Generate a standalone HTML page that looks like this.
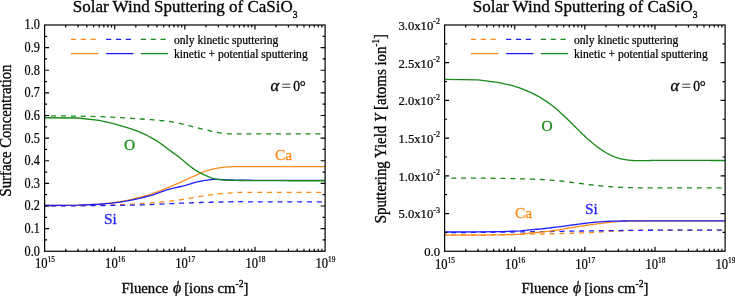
<!DOCTYPE html>
<html><head><meta charset="utf-8"><style>
html,body{margin:0;padding:0;background:#fff;width:735px;height:296px;overflow:hidden}
svg{display:block;will-change:transform}
</style></head><body>
<svg width="735" height="296" viewBox="0 0 735 296">
<rect width="735" height="296" fill="#fff"/>
<g fill="none" stroke-width="1.3" stroke-linecap="butt">
<path d="M44.60,205.91 L78.06,205.67 L99.17,205.34 L111.52,205.00 L120.28,204.65 L127.07,204.33 L132.63,204.06 L137.32,203.81 L141.39,203.57 L144.97,203.35 L148.18,203.13 L151.09,202.92 L153.74,202.72 L156.17,202.52 L158.43,202.33 L160.53,202.15 L162.50,201.97 L164.34,201.79 L166.08,201.60 L167.73,201.42 L169.29,201.24 L170.78,201.06 L172.20,200.89 L173.55,200.71 L174.84,200.54 L176.09,200.38 L177.28,200.22 L178.43,200.06 L179.54,199.90 L180.61,199.75 L181.64,199.59 L182.64,199.45 L183.61,199.30 L184.54,199.16 L185.45,199.02 L186.34,198.89 L187.19,198.75 L188.03,198.62 L188.84,198.49 L189.63,198.37 L190.40,198.24 L191.16,198.11 L191.89,197.98 L192.60,197.84 L193.31,197.70 L194.66,197.42 L195.96,197.15 L197.20,196.90 L198.39,196.67 L199.54,196.46 L200.65,196.28 L201.72,196.12 L202.75,195.96 L203.75,195.82 L204.72,195.69 L205.65,195.56 L206.56,195.44 L207.45,195.32 L208.30,195.21 L209.14,195.10 L209.95,194.99 L210.74,194.88 L211.51,194.77 L212.26,194.67 L213.00,194.56 L213.72,194.46 L214.41,194.36 L215.44,194.22 L216.42,194.09 L217.38,193.97 L218.31,193.86 L219.21,193.77 L220.08,193.68 L220.93,193.61 L221.76,193.54 L222.56,193.48 L223.35,193.42 L224.11,193.37 L224.86,193.32 L225.59,193.27 L226.30,193.22 L227.22,193.16 L228.12,193.11 L228.99,193.05 L229.83,193.00 L230.66,192.95 L231.46,192.89 L232.24,192.84 L233.00,192.78 L233.74,192.73 L234.47,192.68 L235.18,192.63 L236.04,192.58 L236.88,192.53 L237.69,192.49 L238.49,192.46 L239.26,192.44 L240.02,192.42 L240.76,192.42 L241.48,192.41 L242.18,192.40 L243.00,192.39 L243.81,192.38 L244.59,192.37 L245.35,192.36 L246.09,192.36 L246.82,192.35 L247.53,192.34 L248.33,192.34 L249.12,192.33 L249.88,192.32 L250.63,192.32 L251.36,192.32 L252.07,192.31 L252.86,192.31 L253.64,192.30 L254.39,192.30 L255.13,192.30 L255.85,192.30 L256.55,192.29 L257.32,192.29 L258.07,192.29 L258.81,192.29 L259.52,192.29 L260.22,192.29 L260.98,192.29 L261.72,192.29 L262.44,192.29 L263.15,192.29 L263.91,192.29 L264.65,192.29 L265.37,192.29 L266.08,192.29 L266.83,192.29 L267.57,192.29 L268.28,192.29 L268.98,192.29 L269.72,192.29 L270.45,192.29 L271.15,192.29 L271.90,192.29 L272.62,192.29 L273.33,192.29 L274.07,192.29 L274.79,192.29 L275.50,192.29 L276.24,192.29 L276.95,192.29 L277.66,192.29 L278.39,192.29 L279.10,192.29 L279.83,192.29 L280.55,192.29 L281.25,192.29 L281.98,192.29 L282.69,192.29 L283.41,192.29 L284.12,192.29 L284.85,192.29 L285.56,192.29 L286.29,192.29 L287.00,192.29 L287.72,192.29 L288.43,192.29 L289.15,192.29 L289.86,192.29 L290.58,192.29 L291.28,192.29 L291.99,192.29 L292.72,192.29 L293.42,192.29 L294.14,192.29 L294.86,192.29 L295.57,192.29 L296.28,192.29 L297.00,192.29 L297.71,192.29 L298.42,192.29 L299.13,192.29 L299.85,192.29 L300.56,192.29 L301.26,192.29 L301.98,192.29 L302.69,192.29 L303.41,192.29 L304.12,192.29 L304.82,192.29 L305.53,192.29 L306.23,192.29 L306.94,192.29 L307.64,192.29 L308.35,192.29 L309.05,192.29 L309.75,192.29 L310.46,192.29 L311.16,192.29 L311.87,192.29 L312.58,192.29 L313.29,192.29 L314.00,192.29 L314.70,192.29 L315.41,192.29 L316.12,192.29 L316.82,192.29 L317.53,192.29 L318.24,192.29 L318.94,192.29 L319.65,192.29 L320.35,192.29 L321.06,192.29 L321.76,192.29 L322.46,192.29 L323.17,192.29 L323.88,192.29 L324.58,192.29 L325.00,192.29" stroke="#FF8C1A" stroke-dasharray="5,4.84" stroke-dashoffset="3.2"/>
<path d="M44.60,205.91 L78.06,205.78 L99.17,205.59 L111.52,205.45 L120.28,205.34 L127.07,205.25 L132.63,205.16 L137.32,205.06 L141.39,204.93 L144.97,204.81 L148.18,204.68 L151.09,204.56 L153.74,204.44 L156.17,204.33 L158.43,204.22 L160.53,204.12 L162.50,204.03 L164.34,203.94 L166.08,203.85 L167.73,203.77 L169.29,203.70 L170.78,203.63 L172.20,203.56 L173.55,203.49 L174.84,203.43 L176.09,203.38 L177.28,203.32 L178.43,203.27 L179.54,203.23 L180.61,203.18 L181.64,203.14 L182.64,203.10 L183.61,203.06 L184.54,203.02 L185.45,202.99 L186.34,202.96 L187.19,202.93 L188.03,202.90 L188.84,202.87 L189.63,202.84 L190.40,202.82 L191.16,202.80 L191.89,202.77 L192.60,202.75 L193.31,202.73 L194.66,202.69 L195.96,202.65 L197.20,202.62 L198.39,202.58 L199.54,202.55 L200.65,202.52 L201.72,202.49 L202.75,202.47 L203.75,202.44 L204.72,202.42 L205.65,202.39 L206.56,202.37 L207.45,202.35 L208.30,202.33 L209.14,202.31 L209.95,202.29 L210.74,202.27 L211.51,202.25 L212.26,202.24 L213.00,202.22 L213.72,202.20 L214.41,202.18 L215.44,202.15 L216.42,202.13 L217.38,202.10 L218.31,202.08 L219.21,202.06 L220.08,202.03 L220.93,202.01 L221.76,201.99 L222.56,201.97 L223.35,201.95 L224.11,201.93 L224.86,201.91 L225.59,201.90 L226.30,201.88 L227.22,201.86 L228.12,201.84 L228.99,201.82 L229.83,201.81 L230.66,201.79 L231.46,201.78 L232.24,201.76 L233.00,201.75 L233.74,201.74 L234.47,201.73 L235.18,201.73 L236.04,201.72 L236.88,201.71 L237.69,201.71 L238.49,201.70 L239.26,201.70 L240.02,201.70 L240.76,201.70 L241.48,201.70 L242.18,201.71 L243.00,201.72 L243.81,201.72 L244.59,201.73 L245.35,201.74 L246.09,201.75 L246.82,201.76 L247.53,201.77 L248.33,201.79 L249.12,201.80 L249.88,201.81 L250.63,201.83 L251.36,201.84 L252.07,201.85 L252.86,201.86 L253.64,201.87 L254.39,201.88 L255.13,201.89 L255.85,201.90 L256.55,201.91 L257.32,201.92 L258.07,201.92 L258.81,201.93 L259.52,201.93 L260.22,201.93 L260.98,201.93 L261.72,201.93 L262.44,201.93 L263.15,201.93 L263.91,201.93 L264.65,201.93 L265.37,201.93 L266.08,201.93 L266.83,201.93 L267.57,201.93 L268.28,201.93 L268.98,201.93 L269.72,201.93 L270.45,201.93 L271.15,201.93 L271.90,201.93 L272.62,201.93 L273.33,201.93 L274.07,201.93 L274.79,201.93 L275.50,201.93 L276.24,201.93 L276.95,201.93 L277.66,201.93 L278.39,201.93 L279.10,201.93 L279.83,201.93 L280.55,201.93 L281.25,201.93 L281.98,201.93 L282.69,201.93 L283.41,201.93 L284.12,201.93 L284.85,201.93 L285.56,201.93 L286.29,201.93 L287.00,201.93 L287.72,201.93 L288.43,201.93 L289.15,201.93 L289.86,201.93 L290.58,201.93 L291.28,201.93 L291.99,201.93 L292.72,201.93 L293.42,201.93 L294.14,201.93 L294.86,201.93 L295.57,201.93 L296.28,201.93 L297.00,201.93 L297.71,201.93 L298.42,201.93 L299.13,201.93 L299.85,201.93 L300.56,201.93 L301.26,201.93 L301.98,201.93 L302.69,201.93 L303.41,201.93 L304.12,201.93 L304.82,201.93 L305.53,201.93 L306.23,201.93 L306.94,201.93 L307.64,201.93 L308.35,201.93 L309.05,201.93 L309.75,201.93 L310.46,201.93 L311.16,201.93 L311.87,201.93 L312.58,201.93 L313.29,201.93 L314.00,201.93 L314.70,201.93 L315.41,201.93 L316.12,201.93 L316.82,201.93 L317.53,201.93 L318.24,201.93 L318.94,201.93 L319.65,201.93 L320.35,201.93 L321.06,201.93 L321.76,201.93 L322.46,201.93 L323.17,201.93 L323.88,201.93 L324.58,201.93 L325.00,201.93" stroke="#1E1EFA" stroke-dasharray="5,4.84" stroke-dashoffset="3.2"/>
<path d="M44.60,205.50 L78.06,205.13 L99.17,204.03 L111.52,202.90 L120.28,201.75 L127.07,200.35 L132.63,199.05 L137.32,197.93 L141.39,196.90 L144.97,195.94 L148.18,195.01 L151.09,194.12 L153.74,193.22 L156.17,192.34 L158.43,191.48 L160.53,190.65 L162.50,189.86 L164.34,189.11 L166.08,188.39 L167.73,187.70 L169.29,187.06 L170.78,186.45 L172.20,185.85 L173.55,185.28 L174.84,184.72 L176.09,184.18 L177.28,183.65 L178.43,183.14 L179.54,182.65 L180.61,182.17 L181.64,181.71 L182.64,181.26 L183.61,180.83 L184.54,180.41 L185.45,180.00 L186.34,179.61 L187.19,179.22 L188.03,178.84 L188.84,178.47 L189.63,178.11 L190.40,177.76 L191.16,177.42 L191.89,177.09 L192.60,176.76 L193.31,176.44 L194.66,175.83 L195.96,175.25 L197.20,174.68 L198.39,174.13 L199.54,173.60 L200.65,173.11 L201.72,172.64 L202.75,172.21 L203.75,171.83 L204.72,171.48 L205.65,171.17 L206.56,170.88 L207.45,170.60 L208.30,170.34 L209.14,170.10 L209.95,169.87 L210.74,169.65 L211.51,169.45 L212.26,169.27 L213.00,169.09 L213.72,168.93 L214.41,168.79 L215.44,168.58 L216.42,168.40 L217.38,168.22 L218.31,168.05 L219.21,167.89 L220.08,167.75 L220.93,167.62 L221.76,167.50 L222.56,167.40 L223.35,167.31 L224.11,167.23 L224.86,167.16 L225.59,167.11 L226.30,167.05 L227.22,166.98 L228.12,166.92 L228.99,166.86 L229.83,166.81 L230.66,166.76 L231.46,166.72 L232.24,166.69 L233.00,166.66 L233.74,166.64 L234.47,166.63 L235.18,166.63 L236.04,166.63 L236.88,166.63 L237.69,166.63 L238.49,166.63 L239.26,166.63 L240.02,166.63 L240.76,166.63 L241.48,166.63 L242.18,166.63 L243.00,166.63 L243.81,166.63 L244.59,166.63 L245.35,166.63 L246.09,166.63 L246.82,166.63 L247.53,166.63 L248.33,166.63 L249.12,166.63 L249.88,166.63 L250.63,166.63 L251.36,166.63 L252.07,166.63 L252.86,166.63 L253.64,166.63 L254.39,166.63 L255.13,166.63 L255.85,166.63 L256.55,166.63 L257.32,166.63 L258.07,166.63 L258.81,166.63 L259.52,166.63 L260.22,166.63 L260.98,166.63 L261.72,166.63 L262.44,166.63 L263.15,166.63 L263.91,166.63 L264.65,166.63 L265.37,166.63 L266.08,166.63 L266.83,166.63 L267.57,166.63 L268.28,166.63 L268.98,166.63 L269.72,166.63 L270.45,166.63 L271.15,166.63 L271.90,166.63 L272.62,166.63 L273.33,166.63 L274.07,166.63 L274.79,166.63 L275.50,166.63 L276.24,166.63 L276.95,166.63 L277.66,166.63 L278.39,166.63 L279.10,166.63 L279.83,166.63 L280.55,166.63 L281.25,166.63 L281.98,166.63 L282.69,166.63 L283.41,166.63 L284.12,166.63 L284.85,166.63 L285.56,166.63 L286.29,166.63 L287.00,166.63 L287.72,166.63 L288.43,166.63 L289.15,166.63 L289.86,166.63 L290.58,166.63 L291.28,166.63 L291.99,166.63 L292.72,166.63 L293.42,166.63 L294.14,166.63 L294.86,166.63 L295.57,166.63 L296.28,166.63 L297.00,166.63 L297.71,166.63 L298.42,166.63 L299.13,166.63 L299.85,166.63 L300.56,166.63 L301.26,166.63 L301.98,166.63 L302.69,166.63 L303.41,166.63 L304.12,166.63 L304.82,166.63 L305.53,166.63 L306.23,166.63 L306.94,166.63 L307.64,166.63 L308.35,166.63 L309.05,166.63 L309.75,166.63 L310.46,166.63 L311.16,166.63 L311.87,166.63 L312.58,166.63 L313.29,166.63 L314.00,166.63 L314.70,166.63 L315.41,166.63 L316.12,166.63 L316.82,166.63 L317.53,166.63 L318.24,166.63 L318.94,166.63 L319.65,166.63 L320.35,166.63 L321.06,166.63 L321.76,166.63 L322.46,166.63 L323.17,166.63 L323.88,166.63 L324.58,166.63 L325.00,166.63" stroke="#FF8C1A"/>
<path d="M44.60,205.50 L78.06,205.13 L99.17,204.24 L111.52,203.19 L120.28,202.12 L127.07,200.93 L132.63,199.81 L137.32,198.80 L141.39,197.87 L144.97,197.00 L148.18,196.17 L151.09,195.38 L153.74,194.55 L156.17,193.73 L158.43,192.93 L160.53,192.17 L162.50,191.47 L164.34,190.82 L166.08,190.23 L167.73,189.70 L169.29,189.23 L170.78,188.82 L172.20,188.45 L173.55,188.12 L174.84,187.81 L176.09,187.53 L177.28,187.26 L178.43,187.00 L179.54,186.75 L180.61,186.50 L181.64,186.26 L182.64,186.02 L183.61,185.78 L184.54,185.53 L185.45,185.29 L186.34,185.04 L187.19,184.78 L188.03,184.53 L188.84,184.29 L189.63,184.05 L190.40,183.82 L191.16,183.59 L191.89,183.36 L192.60,183.14 L193.31,182.93 L194.66,182.56 L195.96,182.24 L197.20,181.94 L198.39,181.67 L199.54,181.42 L200.65,181.19 L201.72,180.99 L202.75,180.80 L203.75,180.63 L204.72,180.48 L205.65,180.34 L206.56,180.20 L207.45,180.06 L208.30,179.93 L209.14,179.81 L209.95,179.69 L210.74,179.59 L211.51,179.50 L212.26,179.43 L213.00,179.37 L213.72,179.33 L214.41,179.31 L215.44,179.30 L216.42,179.32 L217.38,179.35 L218.31,179.39 L219.21,179.44 L220.08,179.49 L220.93,179.54 L221.76,179.59 L222.56,179.64 L223.35,179.68 L224.11,179.72 L224.86,179.75 L225.59,179.77 L226.30,179.80 L227.22,179.83 L228.12,179.86 L228.99,179.89 L229.83,179.92 L230.66,179.94 L231.46,179.97 L232.24,180.00 L233.00,180.02 L233.74,180.04 L234.47,180.06 L235.18,180.08 L236.04,180.11 L236.88,180.13 L237.69,180.15 L238.49,180.17 L239.26,180.18 L240.02,180.20 L240.76,180.21 L241.48,180.22 L242.18,180.23 L243.00,180.24 L243.81,180.25 L244.59,180.25 L245.35,180.25 L246.09,180.26 L246.82,180.26 L247.53,180.26 L248.33,180.26 L249.12,180.27 L249.88,180.27 L250.63,180.27 L251.36,180.27 L252.07,180.27 L252.86,180.28 L253.64,180.28 L254.39,180.28 L255.13,180.28 L255.85,180.28 L256.55,180.29 L257.32,180.29 L258.07,180.29 L258.81,180.29 L259.52,180.29 L260.22,180.30 L260.98,180.30 L261.72,180.30 L262.44,180.30 L263.15,180.30 L263.91,180.30 L264.65,180.31 L265.37,180.31 L266.08,180.31 L266.83,180.31 L267.57,180.31 L268.28,180.31 L268.98,180.32 L269.72,180.32 L270.45,180.32 L271.15,180.32 L271.90,180.32 L272.62,180.32 L273.33,180.32 L274.07,180.33 L274.79,180.33 L275.50,180.33 L276.24,180.33 L276.95,180.33 L277.66,180.33 L278.39,180.33 L279.10,180.33 L279.83,180.33 L280.55,180.34 L281.25,180.34 L281.98,180.34 L282.69,180.34 L283.41,180.34 L284.12,180.34 L284.85,180.34 L285.56,180.34 L286.29,180.34 L287.00,180.34 L287.72,180.35 L288.43,180.35 L289.15,180.35 L289.86,180.35 L290.58,180.35 L291.28,180.35 L291.99,180.35 L292.72,180.35 L293.42,180.35 L294.14,180.35 L294.86,180.35 L295.57,180.35 L296.28,180.35 L297.00,180.35 L297.71,180.36 L298.42,180.36 L299.13,180.36 L299.85,180.36 L300.56,180.36 L301.26,180.36 L301.98,180.36 L302.69,180.36 L303.41,180.36 L304.12,180.36 L304.82,180.36 L305.53,180.36 L306.23,180.36 L306.94,180.36 L307.64,180.36 L308.35,180.36 L309.05,180.36 L309.75,180.36 L310.46,180.36 L311.16,180.36 L311.87,180.36 L312.58,180.36 L313.29,180.36 L314.00,180.36 L314.70,180.36 L315.41,180.36 L316.12,180.36 L316.82,180.37 L317.53,180.37 L318.24,180.37 L318.94,180.37 L319.65,180.37 L320.35,180.37 L321.06,180.37 L321.76,180.37 L322.46,180.37 L323.17,180.37 L323.88,180.37 L324.58,180.37 L325.00,180.37" stroke="#1E1EFA"/>
<path d="M44.60,115.73 L78.06,116.11 L99.17,116.61 L111.52,117.07 L120.28,117.56 L127.07,117.99 L132.63,118.38 L137.32,118.70 L141.39,118.99 L144.97,119.25 L148.18,119.48 L151.09,119.71 L153.74,119.92 L156.17,120.13 L158.43,120.34 L160.53,120.54 L162.50,120.74 L164.34,120.93 L166.08,121.13 L167.73,121.33 L169.29,121.52 L170.78,121.71 L172.20,121.92 L173.55,122.14 L174.84,122.37 L176.09,122.61 L177.28,122.85 L178.43,123.09 L179.54,123.34 L180.61,123.58 L181.64,123.82 L182.64,124.06 L183.61,124.29 L184.54,124.53 L185.45,124.75 L186.34,124.98 L187.19,125.20 L188.03,125.41 L188.84,125.62 L189.63,125.82 L190.40,126.02 L191.16,126.22 L191.89,126.41 L192.60,126.59 L193.31,126.77 L194.66,127.11 L195.96,127.44 L197.20,127.74 L198.39,128.02 L199.54,128.29 L200.65,128.55 L201.72,128.80 L202.75,129.05 L203.75,129.31 L204.72,129.55 L205.65,129.80 L206.56,130.04 L207.45,130.27 L208.30,130.49 L209.14,130.71 L209.95,130.91 L210.74,131.11 L211.51,131.30 L212.26,131.48 L213.00,131.65 L213.72,131.82 L214.41,131.97 L215.44,132.18 L216.42,132.37 L217.38,132.54 L218.31,132.69 L219.21,132.82 L220.08,132.93 L220.93,133.03 L221.76,133.13 L222.56,133.23 L223.35,133.32 L224.11,133.41 L224.86,133.49 L225.59,133.57 L226.30,133.64 L227.22,133.72 L228.12,133.79 L228.99,133.85 L229.83,133.89 L230.66,133.92 L231.46,133.94 L232.24,133.94 L233.00,133.94 L233.74,133.94 L234.47,133.93 L235.18,133.93 L236.04,133.92 L236.88,133.92 L237.69,133.91 L238.49,133.91 L239.26,133.90 L240.02,133.89 L240.76,133.89 L241.48,133.88 L242.18,133.87 L243.00,133.86 L243.81,133.86 L244.59,133.85 L245.35,133.85 L246.09,133.84 L246.82,133.84 L247.53,133.83 L248.33,133.83 L249.12,133.83 L249.88,133.83 L250.63,133.83 L251.36,133.83 L252.07,133.83 L252.86,133.83 L253.64,133.83 L254.39,133.83 L255.13,133.83 L255.85,133.83 L256.55,133.83 L257.32,133.83 L258.07,133.83 L258.81,133.83 L259.52,133.83 L260.22,133.83 L260.98,133.83 L261.72,133.83 L262.44,133.83 L263.15,133.83 L263.91,133.83 L264.65,133.83 L265.37,133.83 L266.08,133.83 L266.83,133.83 L267.57,133.83 L268.28,133.83 L268.98,133.83 L269.72,133.83 L270.45,133.83 L271.15,133.83 L271.90,133.83 L272.62,133.83 L273.33,133.83 L274.07,133.83 L274.79,133.83 L275.50,133.83 L276.24,133.83 L276.95,133.83 L277.66,133.83 L278.39,133.83 L279.10,133.83 L279.83,133.83 L280.55,133.83 L281.25,133.83 L281.98,133.83 L282.69,133.83 L283.41,133.83 L284.12,133.83 L284.85,133.83 L285.56,133.83 L286.29,133.83 L287.00,133.83 L287.72,133.83 L288.43,133.83 L289.15,133.83 L289.86,133.83 L290.58,133.83 L291.28,133.83 L291.99,133.83 L292.72,133.83 L293.42,133.83 L294.14,133.83 L294.86,133.83 L295.57,133.83 L296.28,133.83 L297.00,133.83 L297.71,133.83 L298.42,133.83 L299.13,133.83 L299.85,133.83 L300.56,133.83 L301.26,133.83 L301.98,133.83 L302.69,133.83 L303.41,133.83 L304.12,133.83 L304.82,133.83 L305.53,133.83 L306.23,133.83 L306.94,133.83 L307.64,133.83 L308.35,133.83 L309.05,133.83 L309.75,133.83 L310.46,133.83 L311.16,133.83 L311.87,133.83 L312.58,133.83 L313.29,133.83 L314.00,133.83 L314.70,133.83 L315.41,133.83 L316.12,133.83 L316.82,133.83 L317.53,133.83 L318.24,133.83 L318.94,133.83 L319.65,133.83 L320.35,133.83 L321.06,133.83 L321.76,133.83 L322.46,133.83 L323.17,133.83 L323.88,133.83 L324.58,133.83 L325.00,133.83" stroke="#178A17" stroke-dasharray="5,4.84" stroke-dashoffset="3.2"/>
<path d="M44.60,117.76 L78.06,117.98 L99.17,120.42 L111.52,123.10 L120.28,125.53 L127.07,127.59 L132.63,129.46 L137.32,131.19 L141.39,132.82 L144.97,134.44 L148.18,136.04 L151.09,137.58 L153.74,139.11 L156.17,140.61 L158.43,142.06 L160.53,143.46 L162.50,144.87 L164.34,146.25 L166.08,147.59 L167.73,148.86 L169.29,150.04 L170.78,151.14 L172.20,152.15 L173.55,153.11 L174.84,154.02 L176.09,154.90 L177.28,155.77 L178.43,156.61 L179.54,157.45 L180.61,158.29 L181.64,159.14 L182.64,159.99 L183.61,160.83 L184.54,161.65 L185.45,162.45 L186.34,163.21 L187.19,163.94 L188.03,164.63 L188.84,165.27 L189.63,165.89 L190.40,166.49 L191.16,167.06 L191.89,167.61 L192.60,168.14 L193.31,168.65 L194.66,169.58 L195.96,170.41 L197.20,171.16 L198.39,171.85 L199.54,172.49 L200.65,173.09 L201.72,173.66 L202.75,174.18 L203.75,174.67 L204.72,175.11 L205.65,175.51 L206.56,175.90 L207.45,176.29 L208.30,176.65 L209.14,177.00 L209.95,177.32 L210.74,177.62 L211.51,177.90 L212.26,178.15 L213.00,178.37 L213.72,178.57 L214.41,178.73 L215.44,178.93 L216.42,179.11 L217.38,179.27 L218.31,179.41 L219.21,179.54 L220.08,179.66 L220.93,179.77 L221.76,179.86 L222.56,179.93 L223.35,180.00 L224.11,180.05 L224.86,180.09 L225.59,180.12 L226.30,180.15 L227.22,180.18 L228.12,180.21 L228.99,180.24 L229.83,180.27 L230.66,180.30 L231.46,180.32 L232.24,180.34 L233.00,180.36 L233.74,180.38 L234.47,180.40 L235.18,180.41 L236.04,180.43 L236.88,180.45 L237.69,180.46 L238.49,180.48 L239.26,180.49 L240.02,180.50 L240.76,180.51 L241.48,180.52 L242.18,180.52 L243.00,180.53 L243.81,180.54 L244.59,180.54 L245.35,180.55 L246.09,180.55 L246.82,180.56 L247.53,180.56 L248.33,180.57 L249.12,180.57 L249.88,180.57 L250.63,180.58 L251.36,180.58 L252.07,180.59 L252.86,180.59 L253.64,180.60 L254.39,180.60 L255.13,180.60 L255.85,180.61 L256.55,180.61 L257.32,180.61 L258.07,180.62 L258.81,180.62 L259.52,180.62 L260.22,180.63 L260.98,180.63 L261.72,180.63 L262.44,180.64 L263.15,180.64 L263.91,180.64 L264.65,180.65 L265.37,180.65 L266.08,180.65 L266.83,180.66 L267.57,180.66 L268.28,180.66 L268.98,180.67 L269.72,180.67 L270.45,180.67 L271.15,180.67 L271.90,180.68 L272.62,180.68 L273.33,180.68 L274.07,180.68 L274.79,180.69 L275.50,180.69 L276.24,180.69 L276.95,180.69 L277.66,180.70 L278.39,180.70 L279.10,180.70 L279.83,180.70 L280.55,180.71 L281.25,180.71 L281.98,180.71 L282.69,180.71 L283.41,180.72 L284.12,180.72 L284.85,180.72 L285.56,180.72 L286.29,180.72 L287.00,180.72 L287.72,180.73 L288.43,180.73 L289.15,180.73 L289.86,180.73 L290.58,180.73 L291.28,180.74 L291.99,180.74 L292.72,180.74 L293.42,180.74 L294.14,180.74 L294.86,180.74 L295.57,180.74 L296.28,180.75 L297.00,180.75 L297.71,180.75 L298.42,180.75 L299.13,180.75 L299.85,180.75 L300.56,180.75 L301.26,180.75 L301.98,180.76 L302.69,180.76 L303.41,180.76 L304.12,180.76 L304.82,180.76 L305.53,180.76 L306.23,180.76 L306.94,180.76 L307.64,180.76 L308.35,180.76 L309.05,180.76 L309.75,180.77 L310.46,180.77 L311.16,180.77 L311.87,180.77 L312.58,180.77 L313.29,180.77 L314.00,180.77 L314.70,180.77 L315.41,180.77 L316.12,180.77 L316.82,180.77 L317.53,180.77 L318.24,180.77 L318.94,180.77 L319.65,180.77 L320.35,180.77 L321.06,180.77 L321.76,180.77 L322.46,180.77 L323.17,180.77 L323.88,180.77 L324.58,180.77 L325.00,180.77" stroke="#178A17"/>
<path d="M444.60,235.11 L478.06,234.91 L499.17,234.66 L511.52,234.49 L520.28,234.36 L527.07,234.25 L532.63,234.16 L537.32,234.08 L541.39,234.01 L544.97,233.94 L548.18,233.87 L551.09,233.80 L553.74,233.74 L556.17,233.68 L558.43,233.62 L560.53,233.57 L562.50,233.52 L564.34,233.47 L566.08,233.42 L567.73,233.37 L569.29,233.32 L570.78,233.28 L572.20,233.24 L573.55,233.19 L574.85,233.15 L576.09,233.11 L577.28,233.07 L578.43,233.04 L579.54,233.00 L580.61,232.96 L581.64,232.93 L582.64,232.89 L583.61,232.86 L584.54,232.82 L585.45,232.79 L586.34,232.76 L587.19,232.73 L588.03,232.70 L588.84,232.67 L589.63,232.64 L590.40,232.61 L591.15,232.58 L591.89,232.54 L592.61,232.51 L593.30,232.47 L594.66,232.40 L595.96,232.33 L597.20,232.25 L598.39,232.18 L599.54,232.11 L600.65,232.03 L601.72,231.96 L602.75,231.89 L603.75,231.83 L604.72,231.76 L605.65,231.70 L606.56,231.64 L607.45,231.59 L608.30,231.53 L609.14,231.48 L609.95,231.44 L610.74,231.39 L611.51,231.35 L612.26,231.31 L613.00,231.28 L613.72,231.24 L614.41,231.21 L615.44,231.17 L616.42,231.13 L617.38,231.10 L618.31,231.06 L619.21,231.03 L620.08,230.99 L620.93,230.96 L621.76,230.93 L622.57,230.90 L623.35,230.88 L624.11,230.85 L624.86,230.82 L625.59,230.80 L626.30,230.78 L627.22,230.75 L628.12,230.72 L628.99,230.69 L629.83,230.67 L630.66,230.65 L631.46,230.62 L632.24,230.60 L633.00,230.58 L633.74,230.56 L634.47,230.55 L635.18,230.53 L636.04,230.51 L636.88,230.49 L637.70,230.48 L638.49,230.46 L639.26,230.45 L640.02,230.43 L640.76,230.42 L641.48,230.41 L642.18,230.40 L643.00,230.39 L643.81,230.38 L644.59,230.36 L645.35,230.35 L646.09,230.34 L646.82,230.33 L647.52,230.32 L648.33,230.31 L649.12,230.30 L649.88,230.29 L650.63,230.28 L651.36,230.28 L652.07,230.27 L652.86,230.26 L653.64,230.25 L654.39,230.25 L655.13,230.24 L655.85,230.23 L656.55,230.23 L657.32,230.22 L658.07,230.22 L658.80,230.21 L659.52,230.21 L660.22,230.21 L660.98,230.20 L661.72,230.20 L662.45,230.20 L663.15,230.20 L663.91,230.19 L664.65,230.19 L665.37,230.19 L666.08,230.18 L666.83,230.18 L667.57,230.18 L668.28,230.18 L668.98,230.17 L669.72,230.17 L670.45,230.17 L671.15,230.17 L671.90,230.16 L672.62,230.16 L673.33,230.16 L674.07,230.16 L674.79,230.16 L675.50,230.15 L676.24,230.15 L676.96,230.15 L677.66,230.15 L678.39,230.15 L679.10,230.15 L679.83,230.14 L680.55,230.14 L681.25,230.14 L681.98,230.14 L682.68,230.14 L683.41,230.14 L684.12,230.14 L684.85,230.14 L685.56,230.14 L686.29,230.13 L687.00,230.13 L687.72,230.13 L688.43,230.13 L689.15,230.13 L689.86,230.13 L690.58,230.13 L691.28,230.13 L691.99,230.13 L692.72,230.13 L693.42,230.13 L694.14,230.13 L694.86,230.13 L695.57,230.13 L696.28,230.13 L697.00,230.13 L697.71,230.13 L698.42,230.13 L699.13,230.13 L699.85,230.13 L700.56,230.13 L701.26,230.13 L701.98,230.13 L702.69,230.13 L703.41,230.13 L704.12,230.13 L704.83,230.13 L705.53,230.13 L706.23,230.13 L706.94,230.13 L707.64,230.13 L708.35,230.13 L709.05,230.13 L709.75,230.13 L710.46,230.13 L711.16,230.13 L711.87,230.13 L712.58,230.13 L713.29,230.13 L714.00,230.13 L714.70,230.13 L715.41,230.13 L716.12,230.13 L716.82,230.13 L717.53,230.13 L718.24,230.13 L718.94,230.13 L719.65,230.13 L720.35,230.13 L721.06,230.13 L721.76,230.13 L722.46,230.13 L723.17,230.13 L723.88,230.13 L724.58,230.13 L725.00,230.13" stroke="#FF8C1A" stroke-dasharray="5,4.84" stroke-dashoffset="3.2"/>
<path d="M444.60,232.70 L478.06,232.39 L499.17,232.16 L511.52,232.02 L520.28,231.91 L527.07,231.83 L532.63,231.76 L537.32,231.69 L541.39,231.63 L544.97,231.58 L548.18,231.53 L551.09,231.48 L553.74,231.44 L556.17,231.40 L558.43,231.36 L560.53,231.33 L562.50,231.29 L564.34,231.26 L566.08,231.23 L567.73,231.21 L569.29,231.18 L570.78,231.16 L572.20,231.14 L573.55,231.12 L574.85,231.10 L576.09,231.08 L577.28,231.06 L578.43,231.04 L579.54,231.03 L580.61,231.01 L581.64,231.00 L582.64,230.98 L583.61,230.97 L584.54,230.96 L585.45,230.94 L586.34,230.93 L587.19,230.92 L588.03,230.91 L588.84,230.90 L589.63,230.89 L590.40,230.88 L591.15,230.87 L591.89,230.87 L592.61,230.86 L593.30,230.85 L594.66,230.83 L595.96,230.82 L597.20,230.80 L598.39,230.79 L599.54,230.77 L600.65,230.76 L601.72,230.75 L602.75,230.73 L603.75,230.72 L604.72,230.71 L605.65,230.70 L606.56,230.69 L607.45,230.68 L608.30,230.67 L609.14,230.66 L609.95,230.65 L610.74,230.64 L611.51,230.63 L612.26,230.62 L613.00,230.61 L613.72,230.60 L614.41,230.60 L615.44,230.58 L616.42,230.57 L617.38,230.56 L618.31,230.55 L619.21,230.54 L620.08,230.53 L620.93,230.52 L621.76,230.51 L622.57,230.50 L623.35,230.49 L624.11,230.49 L624.86,230.48 L625.59,230.47 L626.30,230.46 L627.22,230.45 L628.12,230.44 L628.99,230.44 L629.83,230.43 L630.66,230.42 L631.46,230.41 L632.24,230.40 L633.00,230.40 L633.74,230.39 L634.47,230.38 L635.18,230.38 L636.04,230.37 L636.88,230.36 L637.70,230.35 L638.49,230.35 L639.26,230.34 L640.02,230.33 L640.76,230.33 L641.48,230.32 L642.18,230.31 L643.00,230.31 L643.81,230.30 L644.59,230.30 L645.35,230.29 L646.09,230.29 L646.82,230.28 L647.52,230.28 L648.33,230.27 L649.12,230.26 L649.88,230.26 L650.63,230.26 L651.36,230.25 L652.07,230.25 L652.86,230.24 L653.64,230.24 L654.39,230.23 L655.13,230.23 L655.85,230.23 L656.55,230.22 L657.32,230.22 L658.07,230.22 L658.80,230.21 L659.52,230.21 L660.22,230.21 L660.98,230.21 L661.72,230.20 L662.45,230.20 L663.15,230.20 L663.91,230.19 L664.65,230.19 L665.37,230.19 L666.08,230.19 L666.83,230.18 L667.57,230.18 L668.28,230.18 L668.98,230.18 L669.72,230.17 L670.45,230.17 L671.15,230.17 L671.90,230.17 L672.62,230.16 L673.33,230.16 L674.07,230.16 L674.79,230.16 L675.50,230.16 L676.24,230.15 L676.96,230.15 L677.66,230.15 L678.39,230.15 L679.10,230.15 L679.83,230.15 L680.55,230.14 L681.25,230.14 L681.98,230.14 L682.68,230.14 L683.41,230.14 L684.12,230.14 L684.85,230.14 L685.56,230.14 L686.29,230.14 L687.00,230.13 L687.72,230.13 L688.43,230.13 L689.15,230.13 L689.86,230.13 L690.58,230.13 L691.28,230.13 L691.99,230.13 L692.72,230.13 L693.42,230.13 L694.14,230.13 L694.86,230.13 L695.57,230.13 L696.28,230.13 L697.00,230.13 L697.71,230.13 L698.42,230.13 L699.13,230.13 L699.85,230.13 L700.56,230.13 L701.26,230.13 L701.98,230.13 L702.69,230.13 L703.41,230.13 L704.12,230.13 L704.83,230.13 L705.53,230.13 L706.23,230.13 L706.94,230.13 L707.64,230.13 L708.35,230.13 L709.05,230.13 L709.75,230.13 L710.46,230.13 L711.16,230.13 L711.87,230.13 L712.58,230.13 L713.29,230.13 L714.00,230.13 L714.70,230.13 L715.41,230.13 L716.12,230.13 L716.82,230.13 L717.53,230.13 L718.24,230.13 L718.94,230.13 L719.65,230.13 L720.35,230.13 L721.06,230.13 L721.76,230.13 L722.46,230.13 L723.17,230.13 L723.88,230.13 L724.58,230.13 L725.00,230.13" stroke="#1E1EFA" stroke-dasharray="5,4.84" stroke-dashoffset="3.2"/>
<path d="M444.60,235.11 L478.06,235.06 L499.17,234.96 L511.52,234.57 L520.28,234.04 L527.07,233.44 L532.63,232.91 L537.32,232.49 L541.39,232.11 L544.97,231.72 L548.18,231.32 L551.09,230.91 L553.74,230.51 L556.17,230.13 L558.43,229.78 L560.53,229.45 L562.50,229.13 L564.34,228.82 L566.08,228.53 L567.73,228.25 L569.29,227.98 L570.78,227.73 L572.20,227.49 L573.55,227.27 L574.85,227.07 L576.09,226.87 L577.28,226.69 L578.43,226.52 L579.54,226.35 L580.61,226.20 L581.64,226.04 L582.64,225.90 L583.61,225.76 L584.54,225.63 L585.45,225.50 L586.34,225.37 L587.19,225.25 L588.03,225.13 L588.84,225.02 L589.63,224.91 L590.40,224.80 L591.15,224.69 L591.89,224.59 L592.61,224.49 L593.30,224.39 L594.66,224.20 L595.96,224.02 L597.20,223.86 L598.39,223.70 L599.54,223.55 L600.65,223.42 L601.72,223.28 L602.75,223.16 L603.75,223.03 L604.72,222.92 L605.65,222.80 L606.56,222.70 L607.45,222.59 L608.30,222.49 L609.14,222.40 L609.95,222.31 L610.74,222.23 L611.51,222.15 L612.26,222.08 L613.00,222.01 L613.72,221.94 L614.41,221.89 L615.44,221.80 L616.42,221.72 L617.38,221.64 L618.31,221.57 L619.21,221.49 L620.08,221.42 L620.93,221.36 L621.76,221.30 L622.57,221.25 L623.35,221.21 L624.11,221.17 L624.86,221.14 L625.59,221.11 L626.30,221.09 L627.22,221.08 L628.12,221.07 L628.99,221.06 L629.83,221.06 L630.66,221.05 L631.46,221.04 L632.24,221.04 L633.00,221.03 L633.74,221.02 L634.47,221.02 L635.18,221.01 L636.04,221.01 L636.88,221.00 L637.70,221.00 L638.49,220.99 L639.26,220.99 L640.02,220.98 L640.76,220.98 L641.48,220.98 L642.18,220.97 L643.00,220.97 L643.81,220.97 L644.59,220.96 L645.35,220.96 L646.09,220.96 L646.82,220.95 L647.52,220.95 L648.33,220.95 L649.12,220.95 L649.88,220.95 L650.63,220.94 L651.36,220.94 L652.07,220.94 L652.86,220.94 L653.64,220.94 L654.39,220.94 L655.13,220.94 L655.85,220.93 L656.55,220.93 L657.32,220.93 L658.07,220.93 L658.80,220.93 L659.52,220.93 L660.22,220.93 L660.98,220.93 L661.72,220.93 L662.45,220.93 L663.15,220.93 L663.91,220.93 L664.65,220.93 L665.37,220.93 L666.08,220.93 L666.83,220.93 L667.57,220.93 L668.28,220.93 L668.98,220.93 L669.72,220.93 L670.45,220.93 L671.15,220.93 L671.90,220.93 L672.62,220.93 L673.33,220.93 L674.07,220.93 L674.79,220.93 L675.50,220.93 L676.24,220.93 L676.96,220.93 L677.66,220.93 L678.39,220.93 L679.10,220.93 L679.83,220.93 L680.55,220.93 L681.25,220.93 L681.98,220.93 L682.68,220.93 L683.41,220.93 L684.12,220.93 L684.85,220.93 L685.56,220.93 L686.29,220.93 L687.00,220.93 L687.72,220.93 L688.43,220.93 L689.15,220.93 L689.86,220.93 L690.58,220.93 L691.28,220.93 L691.99,220.93 L692.72,220.93 L693.42,220.93 L694.14,220.93 L694.86,220.93 L695.57,220.93 L696.28,220.93 L697.00,220.93 L697.71,220.93 L698.42,220.93 L699.13,220.93 L699.85,220.93 L700.56,220.93 L701.26,220.93 L701.98,220.93 L702.69,220.93 L703.41,220.93 L704.12,220.93 L704.83,220.93 L705.53,220.93 L706.23,220.93 L706.94,220.93 L707.64,220.93 L708.35,220.93 L709.05,220.93 L709.75,220.93 L710.46,220.93 L711.16,220.93 L711.87,220.93 L712.58,220.93 L713.29,220.93 L714.00,220.93 L714.70,220.93 L715.41,220.93 L716.12,220.93 L716.82,220.93 L717.53,220.93 L718.24,220.93 L718.94,220.93 L719.65,220.93 L720.35,220.93 L721.06,220.93 L721.76,220.93 L722.46,220.93 L723.17,220.93 L723.88,220.93 L724.58,220.93 L725.00,220.93" stroke="#FF8C1A"/>
<path d="M444.60,232.02 L478.06,231.95 L499.17,231.65 L511.52,231.25 L520.28,230.87 L527.07,230.22 L532.63,229.66 L537.32,229.23 L541.39,228.85 L544.97,228.48 L548.18,228.11 L551.09,227.75 L553.74,227.41 L556.17,227.09 L558.43,226.79 L560.53,226.52 L562.50,226.27 L564.34,226.02 L566.08,225.80 L567.73,225.58 L569.29,225.37 L570.78,225.18 L572.20,224.99 L573.55,224.81 L574.85,224.65 L576.09,224.49 L577.28,224.33 L578.43,224.18 L579.54,224.03 L580.61,223.89 L581.64,223.75 L582.64,223.62 L583.61,223.50 L584.54,223.38 L585.45,223.26 L586.34,223.16 L587.19,223.05 L588.03,222.96 L588.84,222.87 L589.63,222.78 L590.40,222.70 L591.15,222.62 L591.89,222.55 L592.61,222.48 L593.30,222.41 L594.66,222.27 L595.96,222.16 L597.20,222.05 L598.39,221.95 L599.54,221.87 L600.65,221.79 L601.72,221.72 L602.75,221.65 L603.75,221.59 L604.72,221.53 L605.65,221.47 L606.56,221.41 L607.45,221.36 L608.30,221.31 L609.14,221.27 L609.95,221.23 L610.74,221.20 L611.51,221.17 L612.26,221.14 L613.00,221.12 L613.72,221.10 L614.41,221.09 L615.44,221.08 L616.42,221.07 L617.38,221.06 L618.31,221.05 L619.21,221.04 L620.08,221.03 L620.93,221.02 L621.76,221.01 L622.57,221.01 L623.35,221.00 L624.11,221.00 L624.86,220.99 L625.59,220.98 L626.30,220.98 L627.22,220.97 L628.12,220.97 L628.99,220.96 L629.83,220.96 L630.66,220.95 L631.46,220.95 L632.24,220.95 L633.00,220.95 L633.74,220.94 L634.47,220.94 L635.18,220.94 L636.04,220.94 L636.88,220.94 L637.70,220.93 L638.49,220.93 L639.26,220.93 L640.02,220.93 L640.76,220.93 L641.48,220.93 L642.18,220.93 L643.00,220.93 L643.81,220.93 L644.59,220.93 L645.35,220.93 L646.09,220.93 L646.82,220.93 L647.52,220.93 L648.33,220.93 L649.12,220.93 L649.88,220.93 L650.63,220.93 L651.36,220.93 L652.07,220.93 L652.86,220.93 L653.64,220.93 L654.39,220.93 L655.13,220.93 L655.85,220.93 L656.55,220.93 L657.32,220.93 L658.07,220.93 L658.80,220.93 L659.52,220.93 L660.22,220.93 L660.98,220.93 L661.72,220.93 L662.45,220.93 L663.15,220.93 L663.91,220.93 L664.65,220.93 L665.37,220.93 L666.08,220.93 L666.83,220.93 L667.57,220.93 L668.28,220.93 L668.98,220.93 L669.72,220.93 L670.45,220.93 L671.15,220.93 L671.90,220.93 L672.62,220.93 L673.33,220.93 L674.07,220.93 L674.79,220.93 L675.50,220.93 L676.24,220.93 L676.96,220.93 L677.66,220.93 L678.39,220.93 L679.10,220.93 L679.83,220.93 L680.55,220.93 L681.25,220.93 L681.98,220.93 L682.68,220.93 L683.41,220.93 L684.12,220.93 L684.85,220.93 L685.56,220.93 L686.29,220.93 L687.00,220.93 L687.72,220.93 L688.43,220.93 L689.15,220.93 L689.86,220.93 L690.58,220.93 L691.28,220.93 L691.99,220.93 L692.72,220.93 L693.42,220.93 L694.14,220.93 L694.86,220.93 L695.57,220.93 L696.28,220.93 L697.00,220.93 L697.71,220.93 L698.42,220.93 L699.13,220.93 L699.85,220.93 L700.56,220.93 L701.26,220.93 L701.98,220.93 L702.69,220.93 L703.41,220.93 L704.12,220.93 L704.83,220.93 L705.53,220.93 L706.23,220.93 L706.94,220.93 L707.64,220.93 L708.35,220.93 L709.05,220.93 L709.75,220.93 L710.46,220.93 L711.16,220.93 L711.87,220.93 L712.58,220.93 L713.29,220.93 L714.00,220.93 L714.70,220.93 L715.41,220.93 L716.12,220.93 L716.82,220.93 L717.53,220.93 L718.24,220.93 L718.94,220.93 L719.65,220.93 L720.35,220.93 L721.06,220.93 L721.76,220.93 L722.46,220.93 L723.17,220.93 L723.88,220.93 L724.58,220.93 L725.00,220.93" stroke="#1E1EFA"/>
<path d="M444.60,178.02 L478.06,178.15 L499.17,178.33 L511.52,178.53 L520.28,178.78 L527.07,178.98 L532.63,179.16 L537.32,179.33 L541.39,179.52 L544.97,179.73 L548.18,179.95 L551.09,180.18 L553.74,180.40 L556.17,180.61 L558.43,180.82 L560.53,181.01 L562.50,181.22 L564.34,181.42 L566.08,181.63 L567.73,181.84 L569.29,182.05 L570.78,182.24 L572.20,182.43 L573.55,182.62 L574.85,182.79 L576.09,182.95 L577.28,183.11 L578.43,183.26 L579.54,183.39 L580.61,183.52 L581.64,183.65 L582.64,183.77 L583.61,183.89 L584.54,184.01 L585.45,184.13 L586.34,184.24 L587.19,184.34 L588.03,184.45 L588.84,184.55 L589.63,184.65 L590.40,184.74 L591.15,184.83 L591.89,184.92 L592.61,185.00 L593.30,185.09 L594.66,185.24 L595.96,185.38 L597.20,185.51 L598.39,185.64 L599.54,185.75 L600.65,185.85 L601.72,185.95 L602.75,186.04 L603.75,186.13 L604.72,186.22 L605.65,186.30 L606.56,186.38 L607.45,186.46 L608.30,186.53 L609.14,186.60 L609.95,186.67 L610.74,186.73 L611.51,186.79 L612.26,186.85 L613.00,186.90 L613.72,186.95 L614.41,187.00 L615.44,187.06 L616.42,187.12 L617.38,187.18 L618.31,187.22 L619.21,187.26 L620.08,187.30 L620.93,187.33 L621.76,187.36 L622.57,187.39 L623.35,187.42 L624.11,187.45 L624.86,187.48 L625.59,187.50 L626.30,187.53 L627.22,187.56 L628.12,187.59 L628.99,187.61 L629.83,187.64 L630.66,187.66 L631.46,187.68 L632.24,187.70 L633.00,187.72 L633.74,187.74 L634.47,187.75 L635.18,187.76 L636.04,187.78 L636.88,187.79 L637.70,187.80 L638.49,187.81 L639.26,187.82 L640.02,187.82 L640.76,187.83 L641.48,187.83 L642.18,187.84 L643.00,187.84 L643.81,187.85 L644.59,187.85 L645.35,187.86 L646.09,187.86 L646.82,187.86 L647.52,187.87 L648.33,187.87 L649.12,187.88 L649.88,187.88 L650.63,187.88 L651.36,187.88 L652.07,187.89 L652.86,187.89 L653.64,187.89 L654.39,187.89 L655.13,187.89 L655.85,187.90 L656.55,187.90 L657.32,187.90 L658.07,187.90 L658.80,187.90 L659.52,187.90 L660.22,187.90 L660.98,187.90 L661.72,187.90 L662.45,187.90 L663.15,187.90 L663.91,187.90 L664.65,187.90 L665.37,187.90 L666.08,187.90 L666.83,187.90 L667.57,187.90 L668.28,187.90 L668.98,187.90 L669.72,187.90 L670.45,187.90 L671.15,187.90 L671.90,187.90 L672.62,187.90 L673.33,187.90 L674.07,187.90 L674.79,187.90 L675.50,187.90 L676.24,187.90 L676.96,187.90 L677.66,187.90 L678.39,187.90 L679.10,187.90 L679.83,187.90 L680.55,187.90 L681.25,187.90 L681.98,187.90 L682.68,187.90 L683.41,187.90 L684.12,187.90 L684.85,187.90 L685.56,187.90 L686.29,187.90 L687.00,187.90 L687.72,187.90 L688.43,187.90 L689.15,187.90 L689.86,187.90 L690.58,187.90 L691.28,187.90 L691.99,187.90 L692.72,187.90 L693.42,187.90 L694.14,187.90 L694.86,187.90 L695.57,187.90 L696.28,187.90 L697.00,187.90 L697.71,187.90 L698.42,187.90 L699.13,187.90 L699.85,187.90 L700.56,187.90 L701.26,187.90 L701.98,187.90 L702.69,187.90 L703.41,187.90 L704.12,187.90 L704.83,187.90 L705.53,187.90 L706.23,187.90 L706.94,187.90 L707.64,187.90 L708.35,187.90 L709.05,187.90 L709.75,187.90 L710.46,187.90 L711.16,187.90 L711.87,187.90 L712.58,187.90 L713.29,187.90 L714.00,187.90 L714.70,187.90 L715.41,187.90 L716.12,187.90 L716.82,187.90 L717.53,187.90 L718.24,187.90 L718.94,187.90 L719.65,187.90 L720.35,187.90 L721.06,187.90 L721.76,187.90 L722.46,187.90 L723.17,187.90 L723.88,187.90 L724.58,187.90 L725.00,187.90" stroke="#178A17" stroke-dasharray="5,4.84" stroke-dashoffset="3.2"/>
<path d="M444.60,79.35 L478.06,79.90 L499.17,82.55 L511.52,85.43 L520.28,88.21 L527.07,90.85 L532.63,93.38 L537.32,95.81 L541.39,98.16 L544.97,100.43 L548.18,102.62 L551.09,104.76 L553.74,106.83 L556.17,108.84 L558.43,110.78 L560.53,112.65 L562.50,114.45 L564.34,116.18 L566.08,117.83 L567.73,119.43 L569.29,120.95 L570.78,122.42 L572.20,123.83 L573.55,125.18 L574.85,126.47 L576.09,127.71 L577.28,128.90 L578.43,130.04 L579.54,131.13 L580.61,132.18 L581.64,133.18 L582.64,134.15 L583.61,135.07 L584.54,135.95 L585.45,136.80 L586.34,137.61 L587.19,138.40 L588.03,139.15 L588.84,139.87 L589.63,140.56 L590.40,141.23 L591.15,141.88 L591.89,142.50 L592.61,143.09 L593.30,143.67 L594.66,144.76 L595.96,145.78 L597.20,146.73 L598.39,147.62 L599.54,148.45 L600.65,149.22 L601.72,149.95 L602.75,150.63 L603.75,151.27 L604.72,151.87 L605.65,152.44 L606.56,152.96 L607.45,153.46 L608.30,153.93 L609.14,154.36 L609.95,154.78 L610.74,155.16 L611.51,155.52 L612.26,155.86 L613.00,156.18 L613.72,156.48 L614.41,156.76 L615.44,157.14 L616.42,157.49 L617.38,157.81 L618.31,158.10 L619.21,158.35 L620.08,158.59 L620.93,158.80 L621.76,159.00 L622.57,159.18 L623.35,159.34 L624.11,159.48 L624.86,159.61 L625.59,159.73 L626.30,159.84 L627.22,159.97 L628.12,160.08 L628.99,160.18 L629.83,160.26 L630.66,160.34 L631.46,160.40 L632.24,160.45 L633.00,160.50 L633.74,160.54 L634.47,160.57 L635.18,160.60 L636.04,160.62 L636.88,160.64 L637.70,160.66 L638.49,160.67 L639.26,160.67 L640.02,160.67 L640.76,160.67 L641.48,160.67 L642.18,160.66 L643.00,160.65 L643.81,160.64 L644.59,160.62 L645.35,160.61 L646.09,160.59 L646.82,160.58 L647.52,160.56 L648.33,160.55 L649.12,160.53 L649.88,160.52 L650.63,160.50 L651.36,160.49 L652.07,160.48 L652.86,160.47 L653.64,160.45 L654.39,160.44 L655.13,160.43 L655.85,160.42 L656.55,160.41 L657.32,160.41 L658.07,160.40 L658.80,160.39 L659.52,160.38 L660.22,160.38 L660.98,160.37 L661.72,160.36 L662.45,160.36 L663.15,160.35 L663.91,160.35 L664.65,160.34 L665.37,160.34 L666.08,160.33 L666.83,160.33 L667.57,160.33 L668.28,160.33 L668.98,160.32 L669.72,160.32 L670.45,160.32 L671.15,160.32 L671.90,160.32 L672.62,160.32 L673.33,160.32 L674.07,160.32 L674.79,160.32 L675.50,160.32 L676.24,160.32 L676.96,160.32 L677.66,160.32 L678.39,160.32 L679.10,160.32 L679.83,160.32 L680.55,160.33 L681.25,160.33 L681.98,160.33 L682.68,160.33 L683.41,160.33 L684.12,160.34 L684.85,160.34 L685.56,160.34 L686.29,160.35 L687.00,160.35 L687.72,160.35 L688.43,160.36 L689.15,160.36 L689.86,160.36 L690.58,160.37 L691.28,160.37 L691.99,160.37 L692.72,160.38 L693.42,160.38 L694.14,160.39 L694.86,160.39 L695.57,160.39 L696.28,160.40 L697.00,160.40 L697.71,160.41 L698.42,160.41 L699.13,160.42 L699.85,160.42 L700.56,160.42 L701.26,160.43 L701.98,160.43 L702.69,160.44 L703.41,160.44 L704.12,160.44 L704.83,160.45 L705.53,160.45 L706.23,160.45 L706.94,160.46 L707.64,160.46 L708.35,160.46 L709.05,160.47 L709.75,160.47 L710.46,160.47 L711.16,160.48 L711.87,160.48 L712.58,160.48 L713.29,160.48 L714.00,160.48 L714.70,160.49 L715.41,160.49 L716.12,160.49 L716.82,160.49 L717.53,160.49 L718.24,160.49 L718.94,160.49 L719.65,160.49 L720.35,160.49 L721.06,160.49 L721.76,160.49 L722.46,160.49 L723.17,160.49 L723.88,160.49 L724.58,160.49 L725.00,160.49" stroke="#178A17"/>
<path d="M70.9,39.4h27.4" stroke="#FF8C1A" stroke-dasharray="5.2,4.64"/>
<path d="M70.9,53.6h27.4" stroke="#FF8C1A"/>
<path d="M106.1,39.4h27.4" stroke="#1E1EFA" stroke-dasharray="5.2,4.64"/>
<path d="M106.1,53.6h27.4" stroke="#1E1EFA"/>
<path d="M140.8,39.4h27.4" stroke="#178A17" stroke-dasharray="5.2,4.64"/>
<path d="M140.8,53.6h27.4" stroke="#178A17"/>
<path d="M470.9,39.4h27.4" stroke="#FF8C1A" stroke-dasharray="5.2,4.64"/>
<path d="M470.9,53.6h27.4" stroke="#FF8C1A"/>
<path d="M506.1,39.4h27.4" stroke="#1E1EFA" stroke-dasharray="5.2,4.64"/>
<path d="M506.1,53.6h27.4" stroke="#1E1EFA"/>
<path d="M540.8,39.4h27.4" stroke="#178A17" stroke-dasharray="5.2,4.64"/>
<path d="M540.8,53.6h27.4" stroke="#178A17"/>
</g>
<g fill="none" stroke="#000" stroke-width="1.2">
<rect x="44.6" y="25.0" width="280.5" height="226.25"/>
<rect x="444.6" y="25.0" width="280.5" height="226.25"/>
<path d="M65.71,251.25v-2.5M65.71,25.0v2.5M78.06,251.25v-2.5M78.06,25.0v2.5M86.82,251.25v-2.5M86.82,25.0v2.5M93.62,251.25v-2.5M93.62,25.0v2.5M99.17,251.25v-2.5M99.17,25.0v2.5M103.86,251.25v-2.5M103.86,25.0v2.5M107.93,251.25v-2.5M107.93,25.0v2.5M111.52,251.25v-2.5M111.52,25.0v2.5M114.72,251.25v-4.5M114.72,25.0v4.5M135.83,251.25v-2.5M135.83,25.0v2.5M148.18,251.25v-2.5M148.18,25.0v2.5M156.94,251.25v-2.5M156.94,25.0v2.5M163.74,251.25v-2.5M163.74,25.0v2.5M169.29,251.25v-2.5M169.29,25.0v2.5M173.99,251.25v-2.5M173.99,25.0v2.5M178.05,251.25v-2.5M178.05,25.0v2.5M181.64,251.25v-2.5M181.64,25.0v2.5M184.85,251.25v-4.5M184.85,25.0v4.5M205.96,251.25v-2.5M205.96,25.0v2.5M218.31,251.25v-2.5M218.31,25.0v2.5M227.07,251.25v-2.5M227.07,25.0v2.5M233.87,251.25v-2.5M233.87,25.0v2.5M239.42,251.25v-2.5M239.42,25.0v2.5M244.11,251.25v-2.5M244.11,25.0v2.5M248.18,251.25v-2.5M248.18,25.0v2.5M251.77,251.25v-2.5M251.77,25.0v2.5M254.97,251.25v-4.5M254.97,25.0v4.5M276.08,251.25v-2.5M276.08,25.0v2.5M288.43,251.25v-2.5M288.43,25.0v2.5M297.19,251.25v-2.5M297.19,25.0v2.5M303.99,251.25v-2.5M303.99,25.0v2.5M309.54,251.25v-2.5M309.54,25.0v2.5M314.24,251.25v-2.5M314.24,25.0v2.5M318.30,251.25v-2.5M318.30,25.0v2.5M321.89,251.25v-2.5M321.89,25.0v2.5M44.6,239.94h2.5M325.1,239.94h-2.5M44.6,228.62h4.5M325.1,228.62h-4.5M44.6,217.31h2.5M325.1,217.31h-2.5M44.6,206.00h4.5M325.1,206.00h-4.5M44.6,194.69h2.5M325.1,194.69h-2.5M44.6,183.38h4.5M325.1,183.38h-4.5M44.6,172.06h2.5M325.1,172.06h-2.5M44.6,160.75h4.5M325.1,160.75h-4.5M44.6,149.44h2.5M325.1,149.44h-2.5M44.6,138.12h4.5M325.1,138.12h-4.5M44.6,126.81h2.5M325.1,126.81h-2.5M44.6,115.50h4.5M325.1,115.50h-4.5M44.6,104.19h2.5M325.1,104.19h-2.5M44.6,92.88h4.5M325.1,92.88h-4.5M44.6,81.56h2.5M325.1,81.56h-2.5M44.6,70.25h4.5M325.1,70.25h-4.5M44.6,58.94h2.5M325.1,58.94h-2.5M44.6,47.62h4.5M325.1,47.62h-4.5M44.6,36.31h2.5M325.1,36.31h-2.5M465.71,251.25v-2.5M465.71,25.0v2.5M478.06,251.25v-2.5M478.06,25.0v2.5M486.82,251.25v-2.5M486.82,25.0v2.5M493.62,251.25v-2.5M493.62,25.0v2.5M499.17,251.25v-2.5M499.17,25.0v2.5M503.86,251.25v-2.5M503.86,25.0v2.5M507.93,251.25v-2.5M507.93,25.0v2.5M511.52,251.25v-2.5M511.52,25.0v2.5M514.73,251.25v-4.5M514.73,25.0v4.5M535.83,251.25v-2.5M535.83,25.0v2.5M548.18,251.25v-2.5M548.18,25.0v2.5M556.94,251.25v-2.5M556.94,25.0v2.5M563.74,251.25v-2.5M563.74,25.0v2.5M569.29,251.25v-2.5M569.29,25.0v2.5M573.99,251.25v-2.5M573.99,25.0v2.5M578.05,251.25v-2.5M578.05,25.0v2.5M581.64,251.25v-2.5M581.64,25.0v2.5M584.85,251.25v-4.5M584.85,25.0v4.5M605.96,251.25v-2.5M605.96,25.0v2.5M618.31,251.25v-2.5M618.31,25.0v2.5M627.07,251.25v-2.5M627.07,25.0v2.5M633.87,251.25v-2.5M633.87,25.0v2.5M639.42,251.25v-2.5M639.42,25.0v2.5M644.11,251.25v-2.5M644.11,25.0v2.5M648.18,251.25v-2.5M648.18,25.0v2.5M651.77,251.25v-2.5M651.77,25.0v2.5M654.98,251.25v-4.5M654.98,25.0v4.5M676.08,251.25v-2.5M676.08,25.0v2.5M688.43,251.25v-2.5M688.43,25.0v2.5M697.19,251.25v-2.5M697.19,25.0v2.5M703.99,251.25v-2.5M703.99,25.0v2.5M709.54,251.25v-2.5M709.54,25.0v2.5M714.24,251.25v-2.5M714.24,25.0v2.5M718.30,251.25v-2.5M718.30,25.0v2.5M721.89,251.25v-2.5M721.89,25.0v2.5M444.6,232.40h2.5M725.1,232.40h-2.5M444.6,213.54h4.5M725.1,213.54h-4.5M444.6,194.69h2.5M725.1,194.69h-2.5M444.6,175.83h4.5M725.1,175.83h-4.5M444.6,156.98h2.5M725.1,156.98h-2.5M444.6,138.12h4.5M725.1,138.12h-4.5M444.6,119.27h2.5M725.1,119.27h-2.5M444.6,100.42h4.5M725.1,100.42h-4.5M444.6,81.56h2.5M725.1,81.56h-2.5M444.6,62.71h4.5M725.1,62.71h-4.5M444.6,43.85h2.5M725.1,43.85h-2.5"/>
</g>
<g font-family="Liberation Serif" fill="#000" stroke="#000" stroke-width="0.3">
<text x="72.8" y="11.8" font-size="17">Solar Wind Sputtering of CaSiO<tspan font-size="9.5" dy="6">3</tspan></text>
<text x="174" y="43.6" font-size="11.6" stroke-width="0.22">only kinetic sputtering</text>
<text x="174" y="57.8" font-size="11.6" stroke-width="0.22">kinetic + potential sputtering</text>
<text x="270.4" y="90.5" font-size="16.5" font-style="italic">α</text>
<path d="M282.2,84.2h8.2M282.2,87.3h8.2" stroke="#000" stroke-width="0.75" fill="none"/>
<text x="293.3" y="90.7" font-size="13.6">0</text>
<text x="299.8" y="90.7" font-size="15">°</text>
<text transform="translate(35.00,267.6) scale(0.9,1)" font-size="14" stroke-width="0.22">10<tspan font-size="8.2" dy="-5.8">15</tspan></text>
<text transform="translate(105.12,267.6) scale(0.9,1)" font-size="14" stroke-width="0.22">10<tspan font-size="8.2" dy="-5.8">16</tspan></text>
<text transform="translate(175.25,267.6) scale(0.9,1)" font-size="14" stroke-width="0.22">10<tspan font-size="8.2" dy="-5.8">17</tspan></text>
<text transform="translate(245.38,267.6) scale(0.9,1)" font-size="14" stroke-width="0.22">10<tspan font-size="8.2" dy="-5.8">18</tspan></text>
<text transform="translate(315.50,267.6) scale(0.9,1)" font-size="14" stroke-width="0.22">10<tspan font-size="8.2" dy="-5.8">19</tspan></text>
<text x="185" y="292.5" font-size="14.8" text-anchor="middle">Fluence <tspan font-style="italic" font-size="15.8" dx="0.8">ϕ</tspan><tspan dx="-0.6"> [ions cm</tspan><tspan font-size="9.5" dy="-5.5">-2</tspan><tspan dy="5.5">]</tspan></text>
<text x="472.8" y="11.8" font-size="17">Solar Wind Sputtering of CaSiO<tspan font-size="9.5" dy="6">3</tspan></text>
<text x="574" y="43.6" font-size="11.6" stroke-width="0.22">only kinetic sputtering</text>
<text x="574" y="57.8" font-size="11.6" stroke-width="0.22">kinetic + potential sputtering</text>
<text x="670.4" y="90.5" font-size="16.5" font-style="italic">α</text>
<path d="M682.2,84.2h8.2M682.2,87.3h8.2" stroke="#000" stroke-width="0.75" fill="none"/>
<text x="693.3" y="90.7" font-size="13.6">0</text>
<text x="699.8" y="90.7" font-size="15">°</text>
<text transform="translate(435.00,268.6) scale(0.9,1)" font-size="14" stroke-width="0.22">10<tspan font-size="8.2" dy="-5.8">15</tspan></text>
<text transform="translate(505.12,268.6) scale(0.9,1)" font-size="14" stroke-width="0.22">10<tspan font-size="8.2" dy="-5.8">16</tspan></text>
<text transform="translate(575.25,268.6) scale(0.9,1)" font-size="14" stroke-width="0.22">10<tspan font-size="8.2" dy="-5.8">17</tspan></text>
<text transform="translate(645.38,268.6) scale(0.9,1)" font-size="14" stroke-width="0.22">10<tspan font-size="8.2" dy="-5.8">18</tspan></text>
<text transform="translate(715.50,268.6) scale(0.9,1)" font-size="14" stroke-width="0.22">10<tspan font-size="8.2" dy="-5.8">19</tspan></text>
<text x="585" y="292.5" font-size="14.8" text-anchor="middle">Fluence <tspan font-style="italic" font-size="15.8" dx="0.8">ϕ</tspan><tspan dx="-0.6"> [ions cm</tspan><tspan font-size="9.5" dy="-5.5">-2</tspan><tspan dy="5.5">]</tspan></text>
<text transform="translate(39.8,255.65) scale(0.9,1)" font-size="13.6" text-anchor="end" stroke-width="0.22">0.0</text>
<text transform="translate(39.8,233.03) scale(0.9,1)" font-size="13.6" text-anchor="end" stroke-width="0.22">0.1</text>
<text transform="translate(39.8,210.40) scale(0.9,1)" font-size="13.6" text-anchor="end" stroke-width="0.22">0.2</text>
<text transform="translate(39.8,187.78) scale(0.9,1)" font-size="13.6" text-anchor="end" stroke-width="0.22">0.3</text>
<text transform="translate(39.8,165.15) scale(0.9,1)" font-size="13.6" text-anchor="end" stroke-width="0.22">0.4</text>
<text transform="translate(39.8,142.53) scale(0.9,1)" font-size="13.6" text-anchor="end" stroke-width="0.22">0.5</text>
<text transform="translate(39.8,119.90) scale(0.9,1)" font-size="13.6" text-anchor="end" stroke-width="0.22">0.6</text>
<text transform="translate(39.8,97.28) scale(0.9,1)" font-size="13.6" text-anchor="end" stroke-width="0.22">0.7</text>
<text transform="translate(39.8,74.65) scale(0.9,1)" font-size="13.6" text-anchor="end" stroke-width="0.22">0.8</text>
<text transform="translate(39.8,52.02) scale(0.9,1)" font-size="13.6" text-anchor="end" stroke-width="0.22">0.9</text>
<text transform="translate(39.8,29.40) scale(0.9,1)" font-size="13.6" text-anchor="end" stroke-width="0.22">1.0</text>
<text transform="translate(10.8,130.5) rotate(-90) scale(0.92,1)" font-size="16" text-anchor="middle">Surface Concentration</text>
<text x="124" y="150.4" font-size="15.5" fill="#178A17" stroke="#178A17">O</text>
<text x="275" y="160.4" font-size="15.5" fill="#FF8C1A" stroke="#FF8C1A">Ca</text>
<text x="104" y="223.8" font-size="15.5" fill="#1E1EFA" stroke="#1E1EFA">Si</text>
<text transform="translate(440,256.15) scale(0.96,1)" font-size="13.2" text-anchor="end" stroke-width="0.22">0.0</text>
<text transform="translate(440,218.44) scale(0.96,1)" font-size="13.2" text-anchor="end" stroke-width="0.22">5.0x10<tspan font-size='8.4' dy='-5.8'>-3</tspan></text>
<text transform="translate(440,180.73) scale(0.96,1)" font-size="13.2" text-anchor="end" stroke-width="0.22">1.0x10<tspan font-size='8.4' dy='-5.8'>-2</tspan></text>
<text transform="translate(440,143.03) scale(0.96,1)" font-size="13.2" text-anchor="end" stroke-width="0.22">1.5x10<tspan font-size='8.4' dy='-5.8'>-2</tspan></text>
<text transform="translate(440,105.32) scale(0.96,1)" font-size="13.2" text-anchor="end" stroke-width="0.22">2.0x10<tspan font-size='8.4' dy='-5.8'>-2</tspan></text>
<text transform="translate(440,67.61) scale(0.96,1)" font-size="13.2" text-anchor="end" stroke-width="0.22">2.5x10<tspan font-size='8.4' dy='-5.8'>-2</tspan></text>
<text transform="translate(440,29.90) scale(0.96,1)" font-size="13.2" text-anchor="end" stroke-width="0.22">3.0x10<tspan font-size='8.4' dy='-5.8'>-2</tspan></text>
<text transform="translate(385.6,128.75) rotate(-90) scale(0.933,1)" font-size="16" text-anchor="middle">Sputtering Yield <tspan font-style="italic">Y</tspan> [atoms ion<tspan font-size="9.5" dy="-6.8">-1</tspan><tspan dy="6.8">]</tspan></text>
<text x="541.5" y="130.8" font-size="15.5" fill="#178A17" stroke="#178A17">O</text>
<text x="515" y="218.1" font-size="15.5" fill="#FF8C1A" stroke="#FF8C1A">Ca</text>
<text x="585" y="214" font-size="15.5" fill="#1E1EFA" stroke="#1E1EFA">Si</text>
</g>
</svg>
</body></html>
